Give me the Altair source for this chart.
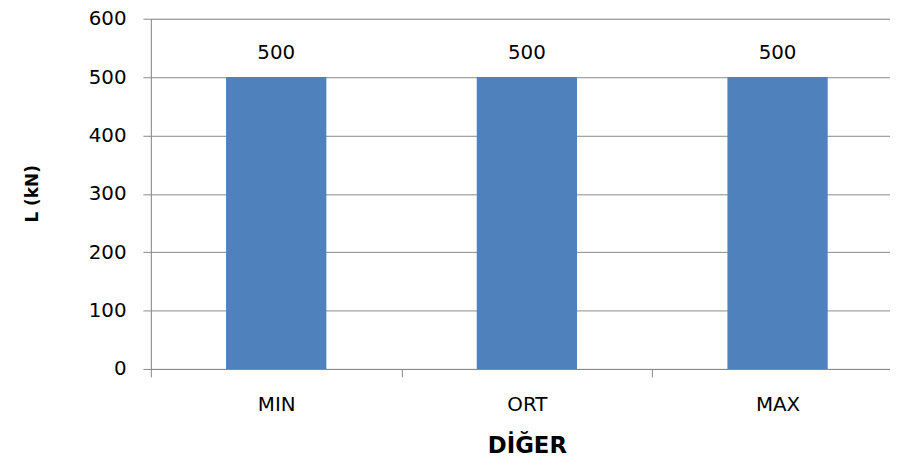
import altair as alt
import pandas as pd

categories = ["MIN", "ORT", "MAX"]
values = [500, 500, 500]
y_ticks = [0, 100, 200, 300, 400, 500, 600]

df = pd.DataFrame({"cat": categories, "val": values})

FONT = "DejaVu Sans"
GRID = "#898989"

x_enc = alt.X(
    "cat:N",
    sort=categories,
    scale=alt.Scale(paddingInner=0, paddingOuter=0),
    axis=alt.Axis(
        title="DİĞER",
        titleFont=FONT,
        titleFontSize=23,
        titleFontWeight="bold",
        titleColor="black",
        titleY=66,
        titleX=379,
        titleBaseline="top",
        labelAngle=0,
        labelFont=FONT,
        labelFontSize=20,
        labelColor="black",
        labelPadding=18,
        tickBand="extent",
        tickSize=8,
        tickColor=GRID,
        domainColor=GRID,
        grid=False,
    ),
)

y_enc = alt.Y(
    "val:Q",
    scale=alt.Scale(domain=[0, 600], nice=False),
    axis=alt.Axis(
        title="L (kN)",
        titleFont=FONT,
        titleFontSize=17,
        titleFontWeight="bold",
        titleColor="black",
        titleX=-110,
        titleY=176,
        values=y_ticks,
        labelFont=FONT,
        labelFontSize=20,
        labelColor="black",
        labelPadding=17,
        tickSize=8,
        tickColor=GRID,
        domainColor=GRID,
        grid=True,
        gridColor=GRID,
        gridWidth=1,
        gridOpacity=1,
    ),
)

bars = alt.Chart(df).mark_bar(
    color="#4F81BD", width=alt.RelativeBandSize(0.4)
).encode(x=x_enc, y=y_enc)

labels = alt.Chart(df).mark_text(
    font=FONT, fontSize=20, color="black", baseline="middle", dy=-24
).encode(x=alt.X("cat:N", sort=categories), y="val:Q", text="val:Q")

chart = (
    alt.layer(bars, labels)
    .properties(
        width=758,
        height=353,
        autosize=alt.AutoSizeParams(type="none"),
        padding={"left": 144, "top": 9, "right": -13, "bottom": 95},
    )
    .configure_view(stroke=None)
    .configure(background="white")
)

chart.save("out.html", embed_options={"renderer": "svg", "actions": False})
